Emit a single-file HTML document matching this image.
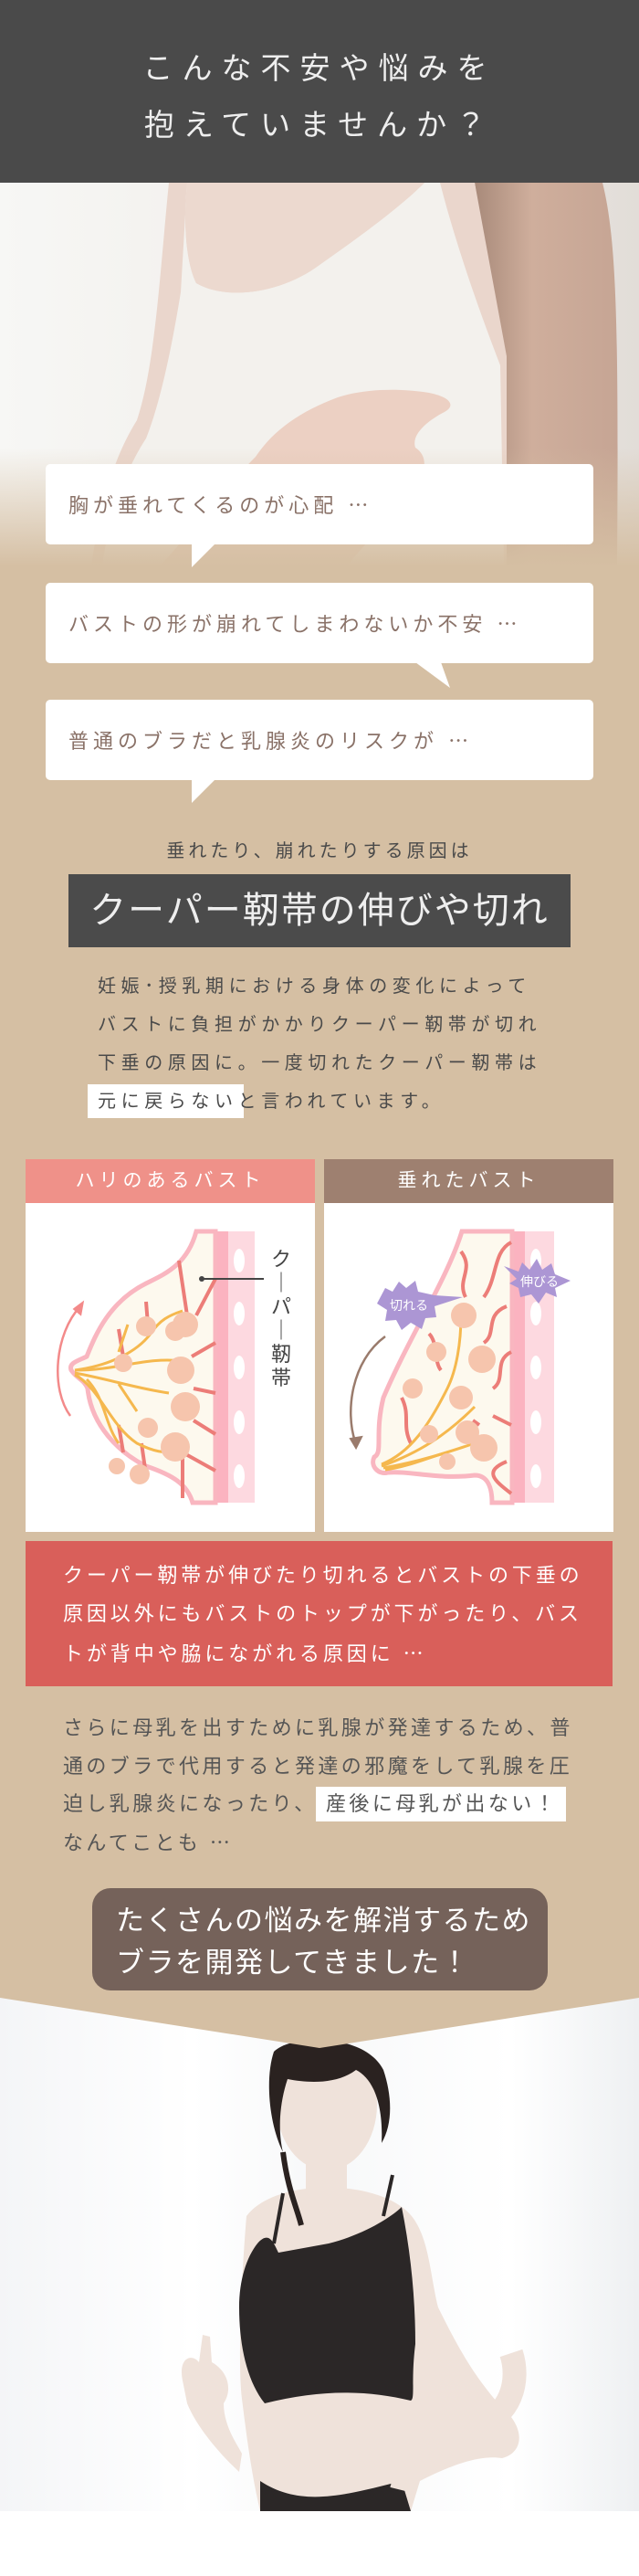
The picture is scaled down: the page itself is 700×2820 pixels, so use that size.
<!DOCTYPE html>
<html><head><meta charset="utf-8">
<style>
*{margin:0;padding:0;box-sizing:border-box}
body{width:700px;height:2820px;position:relative;background:#fff;font-family:"Liberation Sans","Noto Sans CJK JP",sans-serif;overflow:hidden}
.a{position:absolute;white-space:nowrap}
.bub{position:absolute;left:50px;width:600px;height:88px;background:#fff;border-radius:5px;color:#8a7268;font-size:22px;letter-spacing:5px;line-height:88px;padding-left:25px}
.p{position:absolute;left:0;width:700px;white-space:nowrap}
.e{font-family:"Noto Sans CJK JP",sans-serif}
</style></head><body>
<!-- header -->
<div class="a" style="left:0;top:0;width:700px;height:200px;background:#4a4a4a"></div>
<div class="a" style="left:0;top:44px;width:700px;text-align:center;color:#eeeeee;font-size:33px;letter-spacing:10px;line-height:62px">こんな不安や悩みを<br>抱えていませんか？</div>
<!-- beige base -->
<div class="a" style="left:0;top:200px;width:700px;height:2000px;background:#d5bfa3"></div>
<!-- top photo -->
<svg class="a" style="left:0;top:200px" width="700" height="420" viewBox="0 0 700 420">
<defs>
<linearGradient id="bg1" x1="0" x2="1"><stop offset="0" stop-color="#f7f7f5"/><stop offset="0.6" stop-color="#efece8"/><stop offset="1" stop-color="#e2ddd8"/></linearGradient>
<linearGradient id="fade" x1="0" y1="0" x2="0" y2="1"><stop offset="0" stop-color="#d5bfa3" stop-opacity="0"/><stop offset="1" stop-color="#d5bfa3"/></linearGradient>
<linearGradient id="arm" x1="0" x2="1"><stop offset="0" stop-color="#a88a7a"/><stop offset="0.4" stop-color="#cfae9c"/><stop offset="1" stop-color="#c6a594"/></linearGradient>
</defs>
<rect width="700" height="420" fill="url(#bg1)"/>
<path d="M520 0 L660 0 C675 60 678 150 676 420 L552 420 L552 200 Z" fill="url(#arm)"/>
<path d="M185 0 L520 0 L555 190 L555 420 L100 420 C110 350 125 300 150 260 C170 200 175 100 185 0Z" fill="#ead6cc"/>
<path d="M205 0 C200 50 205 90 215 110 C250 130 310 120 350 90 C400 55 440 25 465 0 L482 0 C500 70 525 140 548 200 L552 420 L112 420 C120 360 140 310 160 280 C172 250 185 200 198 120 Z" fill="#f3f1ed"/>
<path d="M205 0 C200 50 205 90 215 110 C250 130 310 120 350 90 C400 55 440 25 465 0Z" fill="#ecd9cf"/>
<path d="M175 420 C220 370 250 330 280 300 C300 270 330 250 370 235 C400 225 440 225 470 230 C495 235 500 245 485 252 C470 260 450 275 455 290 C470 300 470 320 440 350 C420 375 400 395 380 420Z" fill="#ecd0c3"/>
<rect y="290" width="700" height="130" fill="url(#fade)"/>
</svg>
<!-- bubbles -->
<div class="bub" style="top:508px">胸が垂れてくるのが心配 <span class="e">…</span></div>
<svg class="a" style="left:200px;top:595px" width="40" height="28"><path d="M10 0 L36 0 L10 26Z" fill="#fff"/></svg>
<div class="bub" style="top:638px">バストの形が崩れてしまわないか不安 <span class="e">…</span></div>
<svg class="a" style="left:455px;top:725px" width="45" height="30"><path d="M0 0 L28 0 L38 28Z" fill="#fff"/></svg>
<div class="bub" style="top:766px">普通のブラだと乳腺炎のリスクが <span class="e">…</span></div>
<svg class="a" style="left:200px;top:853px" width="40" height="28"><path d="M10 0 L36 0 L10 26Z" fill="#fff"/></svg>
<!-- cause -->
<div class="p" style="top:918px;text-align:center;font-size:20px;letter-spacing:4px;color:#4a4a4a;line-height:28px">垂れたり、崩れたりする原因は</div>
<div class="a" style="left:75px;top:957px;width:550px;height:80px;background:#4b4b4b;color:#eeeeee;font-size:40px;letter-spacing:2px;line-height:80px;text-align:center">クーパー靭帯の伸びや切れ</div>
<div class="a" style="left:96px;top:1187px;width:171px;height:37px;background:#fff"></div>
<div class="a" style="left:107px;top:1059px;font-size:20px;letter-spacing:5.6px;line-height:42px;color:#4a4a4a">妊娠･授乳期における身体の変化によって<br>バストに負担がかかりクーパー靭帯が切れ<br>下垂の原因に。一度切れたクーパー靭帯は<br>元に戻らないと言われています。</div>
<!-- panels -->
<div class="a" style="left:28px;top:1269px;width:317px;height:48px;background:#ef9189;color:#fff;font-size:21px;letter-spacing:5px;line-height:48px;text-align:center">ハリのあるバスト</div>
<div class="a" style="left:355px;top:1269px;width:317px;height:48px;background:#9e8070;color:#fff;font-size:21px;letter-spacing:5px;line-height:48px;text-align:center">垂れたバスト</div>
<div class="a" style="left:28px;top:1317px;width:317px;height:360px;background:#fff"></div>
<div class="a" style="left:355px;top:1317px;width:317px;height:360px;background:#fff"></div>
<svg class="a" style="left:0;top:0" width="700" height="1700" viewBox="0 0 700 1700">
<g>
<rect x="236" y="1348" width="43" height="297" fill="#fbb3c0"/>
<rect x="250" y="1348" width="29" height="297" fill="#fdd9e0"/>
<g fill="#fff"><ellipse cx="262" cy="1380" rx="6" ry="13"/><ellipse cx="262" cy="1438" rx="6" ry="13"/><ellipse cx="262" cy="1497" rx="6" ry="13"/><ellipse cx="262" cy="1557" rx="6" ry="13"/><ellipse cx="262" cy="1616" rx="6" ry="13"/></g>
<path d="M215 1348 C205 1385 180 1395 160 1405 C120 1425 105 1460 95 1485 C85 1490 75 1492 78 1500 C85 1510 92 1510 96 1520 C100 1560 130 1590 160 1605 C190 1615 205 1625 211 1645 L236 1645 L236 1348 Z" fill="#fdf9ee" stroke="#f9b6c0" stroke-width="5"/>
<g stroke="#ec7d78" stroke-width="4" fill="none"><path d="M196 1380 L205 1440"/><path d="M160 1425 L162 1450"/><path d="M130 1455 L135 1485"/><path d="M236 1400 L215 1440"/><path d="M236 1470 L210 1485"/><path d="M236 1525 L212 1520"/><path d="M236 1570 L212 1555"/><path d="M236 1610 L200 1590 L200 1640"/><path d="M130 1560 L135 1590"/><path d="M155 1580 L160 1615"/></g>
<g stroke="#f5b84e" stroke-width="3" fill="none"><path d="M82 1500 C120 1495 150 1480 165 1460 C175 1445 185 1440 200 1435"/><path d="M82 1500 C130 1500 160 1485 200 1490"/><path d="M82 1503 C120 1510 150 1520 185 1525"/><path d="M82 1505 C110 1520 120 1560 150 1580 C170 1590 180 1590 190 1590"/><path d="M95 1510 C115 1530 115 1560 130 1580"/><path d="M130 1480 L140 1450"/><path d="M130 1515 L150 1545"/></g>
<g fill="#f6c5ad"><circle cx="203" cy="1450" r="14"/><circle cx="192" cy="1457" r="11"/><circle cx="198" cy="1500" r="15"/><circle cx="203" cy="1540" r="16"/><circle cx="192" cy="1584" r="16"/><circle cx="160" cy="1452" r="11"/><circle cx="135" cy="1492" r="10"/><circle cx="162" cy="1563" r="11"/><circle cx="128" cy="1605" r="9"/><circle cx="153" cy="1614" r="11"/></g>
<line x1="221" y1="1400" x2="289" y2="1400" stroke="#444" stroke-width="2"/><circle cx="221" cy="1400" r="3" fill="#444"/>
<path d="M77 1550 C55 1520 60 1460 88 1430" stroke="#f38a8a" stroke-width="2.5" fill="none"/><path d="M82 1433 L90 1427 L88 1438Z" fill="#f38a8a" stroke="#f38a8a" stroke-width="3"/>
<rect x="561" y="1348" width="46" height="297" fill="#fbb3c0"/>
<rect x="575" y="1348" width="32" height="297" fill="#fdd9e0"/>
<g fill="#fff"><ellipse cx="587" cy="1380" rx="6" ry="13"/><ellipse cx="587" cy="1438" rx="6" ry="13"/><ellipse cx="587" cy="1497" rx="6" ry="13"/><ellipse cx="587" cy="1557" rx="6" ry="13"/><ellipse cx="587" cy="1616" rx="6" ry="13"/></g>
<path d="M506 1348 C490 1400 450 1460 420 1530 C410 1570 420 1590 410 1595 C405 1605 415 1615 425 1612 C450 1610 480 1620 520 1615 C535 1615 539 1630 539 1645 L561 1645 L561 1348 Z" fill="#fdf9ee" stroke="#f9b6c0" stroke-width="5"/>
<g stroke="#ec7d78" stroke-width="4" fill="none"><path d="M505 1370 C520 1390 500 1400 510 1420"/><path d="M560 1360 C540 1370 545 1400 530 1420"/><path d="M555 1430 C530 1440 545 1460 530 1470"/><path d="M560 1480 C540 1490 555 1510 540 1520"/><path d="M525 1560 L518 1555"/><path d="M555 1600 C530 1610 540 1620 560 1635"/><path d="M440 1530 C450 1550 440 1560 450 1580"/><path d="M470 1460 C480 1470 475 1490 483 1500"/><path d="M540 1550 L560 1560"/></g>
<g stroke="#f5b84e" stroke-width="3" fill="none"><path d="M418 1603 C450 1590 470 1560 490 1520 C500 1500 505 1470 505 1440"/><path d="M418 1605 C460 1590 490 1570 520 1540"/><path d="M420 1607 C460 1600 490 1590 520 1580"/><path d="M422 1609 C450 1605 470 1595 490 1590"/></g>
<g fill="#f6c5ad"><circle cx="508" cy="1440" r="14"/><circle cx="528" cy="1488" r="15"/><circle cx="478" cy="1480" r="11"/><circle cx="505" cy="1530" r="13"/><circle cx="512" cy="1568" r="13"/><circle cx="452" cy="1520" r="11"/><circle cx="470" cy="1570" r="10"/><circle cx="530" cy="1585" r="15"/><circle cx="490" cy="1600" r="9"/></g>
<path d="M422 1463 C385 1490 378 1545 389 1578" stroke="#9a7b6c" stroke-width="2.5" fill="none"/><path d="M384 1575 L390 1585 L396 1573Z" fill="#9a7b6c" stroke="#9a7b6c" stroke-width="2"/>
<path d="M413 1427 L422 1410 L430 1414 L437 1403 L445 1410 L455 1402 L458 1414 L476 1418 L507 1420 L476 1430 L478 1442 L466 1443 L462 1455 L450 1448 L440 1456 L434 1445 L422 1446 L424 1434Z" fill="#ac96d4"/>
<text x="448" y="1434" font-size="14" fill="#fff" text-anchor="middle" font-family="Liberation Sans,Noto Sans CJK JP,sans-serif">切れる</text>
<path d="M552 1386 L568 1392 L572 1382 L580 1390 L588 1378 L594 1390 L604 1383 L608 1395 L625 1402 L608 1410 L610 1420 L598 1415 L590 1427 L582 1417 L570 1420 L568 1410 L558 1405 L566 1400Z" fill="#ac96d4"/>
<text x="591" y="1408" font-size="14" fill="#fff" text-anchor="middle" font-family="Liberation Sans,Noto Sans CJK JP,sans-serif">伸びる</text>
</g>
</svg>
<div class="a" style="left:296px;top:1366px;width:24px;font-size:22px;line-height:26px;color:#444;text-align:center;white-space:normal">ク<br>｜<br>パ<br>｜<br>靭<br>帯</div>
<!-- red box -->
<div class="a" style="left:28px;top:1687px;width:643px;height:159px;background:#d95f5a"></div>
<div class="a" style="left:69px;top:1704px;font-size:22px;letter-spacing:3.9px;line-height:42px;color:#fff">クーパー靭帯が伸びたり切れるとバストの下垂の<br>原因以外にもバストのトップが下がったり、バス<br>トが背中や脇にながれる原因に <span class="e">…</span></div>
<!-- paragraph -->
<div class="a" style="left:346px;top:1956px;width:274px;height:38px;background:#fff"></div>
<div class="a" style="left:69px;top:1871px;font-size:22px;letter-spacing:3.4px;line-height:41.7px;color:#555">さらに母乳を出すために乳腺が発達するため、普<br>通のブラで代用すると発達の邪魔をして乳腺を圧<br>迫し乳腺炎になったり、 産後に母乳が出ない！<br>なんてことも <span class="e">…</span></div>
<!-- brown box -->
<div class="a" style="left:101px;top:2067px;width:499px;height:112px;background:#75625a;border-radius:20px"></div>
<div class="a" style="left:127px;top:2080px;font-size:31px;letter-spacing:1.5px;line-height:46px;color:#fff">たくさんの悩みを解消するため<br>ブラを開発してきました！</div>
<!-- bottom photo -->
<svg class="a" style="left:0;top:2186px" width="700" height="634" viewBox="0 0 700 634">
<defs><linearGradient id="cur" x1="0" x2="1"><stop offset="0" stop-color="#f4f5f7"/><stop offset="0.3" stop-color="#ffffff"/><stop offset="0.5" stop-color="#f7f8f9"/><stop offset="0.8" stop-color="#ffffff"/><stop offset="1" stop-color="#eef0f2"/></linearGradient></defs>
<rect width="700" height="563" fill="url(#cur)"/>
<g fill="#efe2da">
<path d="M270 240 C300 200 400 200 440 230 C470 250 470 300 480 340 C500 380 520 420 560 460 C575 480 570 500 550 505 C520 500 480 520 460 530 L450 563 L285 563 C275 520 270 480 265 440 C260 400 265 300 270 240Z"/>
<path d="M200 420 C195 395 210 390 218 400 L222 370 L230 372 L232 400 C250 410 255 430 245 445 C245 470 260 490 265 500 L262 520 C240 500 215 470 205 445Z"/>
<ellipse cx="358" cy="118" rx="55" ry="72"/>
<rect x="335" y="170" width="45" height="60"/>
</g>
<path d="M300 60 C320 40 400 40 420 80 C430 110 430 140 418 160 C420 120 410 90 390 80 C370 95 340 95 315 90 C305 120 305 150 310 170 C295 140 290 90 300 60Z" fill="#2a2220"/>
<path d="M310 170 C315 210 325 230 330 250" stroke="#2a2220" stroke-width="6" fill="none"/>
<path d="M282 270 C295 255 300 270 305 280 L360 270 C400 260 430 240 440 230 C450 280 455 330 455 380 C450 420 455 440 450 442 C400 430 350 430 290 445 C270 420 262 380 262 340 C262 310 270 285 282 270Z" fill="#2b2727"/>
<path d="M300 270 L310 215 M420 240 L430 195" stroke="#2b2727" stroke-width="4"/>
<path d="M285 530 C330 560 380 545 440 530 L450 563 L285 563Z" fill="#2b2727"/>
<path d="M440 540 C450 500 470 480 520 470 C560 460 570 420 560 390" stroke="#efe2da" stroke-width="26" fill="none"/>
<rect y="563" width="700" height="71" fill="#fff"/>
<path d="M0 0 L700 0 L700 1 L350 56 L0 1Z" fill="#d5bfa3"/>
</svg>
</body></html>
